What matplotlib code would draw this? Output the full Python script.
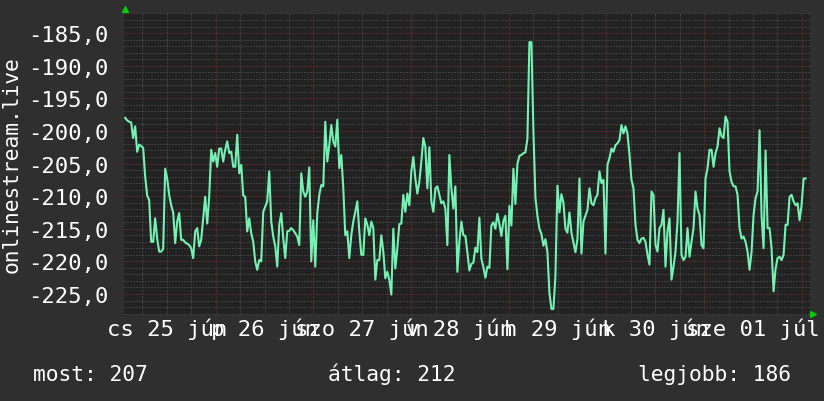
import matplotlib
matplotlib.use("Agg")
import matplotlib.pyplot as plt
import matplotlib.dates as mdates
from matplotlib.ticker import MultipleLocator, FuncFormatter
import pandas as pd

# readings about every half hour (1770 s steps), starting 25 June 01:45
values = [
    -198.0, -198.4, -198.6, -198.7, -201.1, -199.3, -203.2, -202.1, -202.3, -202.6,
    -207.0, -209.9, -210.6, -217.0, -217.0, -213.4, -216.5, -218.5, -218.5, -218.1,
    -205.8, -207.3, -209.8, -211.4, -212.5, -217.2, -213.9, -212.6, -216.7, -216.7,
    -217.1, -217.3, -217.5, -218.0, -219.5, -215.4, -214.9, -217.7, -216.7, -213.4,
    -210.1, -214.2, -210.1, -202.9, -204.7, -203.4, -205.5, -202.7, -202.7, -204.7,
    -202.9, -201.6, -203.4, -203.2, -205.5, -205.5, -200.6, -206.5, -205.2, -209.9,
    -210.1, -215.4, -213.4, -215.7, -217.0, -220.0, -221.3, -219.8, -220.0, -212.4,
    -211.6, -210.8, -206.2, -213.9, -216.2, -217.7, -220.8, -214.4, -212.6, -216.5,
    -219.5, -215.4, -215.3, -214.9, -215.2, -215.7, -216.2, -217.5, -206.5, -209.3,
    -210.1, -209.3, -205.6, -220.0, -213.7, -220.8, -212.6, -209.8, -208.3, -208.5,
    -198.6, -204.7, -202.2, -199.1, -201.6, -202.4, -198.3, -205.7, -203.7, -208.8,
    -216.0, -215.4, -219.5, -216.0, -213.9, -212.4, -210.8, -215.4, -219.0, -219.0,
    -213.4, -214.4, -216.0, -213.9, -214.9, -222.8, -219.8, -219.8, -216.0, -218.5,
    -222.6, -221.6, -222.8, -225.1, -215.0, -221.1, -218.0, -214.3, -214.2, -209.8,
    -212.4, -209.6, -211.4, -206.2, -204.0, -207.3, -209.6, -207.8, -204.7, -201.1,
    -202.4, -208.8, -202.5, -210.8, -212.4, -208.8, -208.5, -209.8, -211.1, -210.8,
    -211.9, -217.5, -203.7, -208.8, -211.9, -208.5, -221.6, -217.0, -213.9, -216.0,
    -216.1, -218.6, -221.4, -220.4, -220.2, -217.9, -218.6, -213.3, -219.6, -220.9,
    -222.5, -220.8, -221.0, -214.5, -214.0, -215.0, -212.7, -214.3, -216.1, -213.8,
    -213.0, -221.2, -211.5, -214.5, -205.8, -211.2, -205.1, -203.8, -203.7, -203.4,
    -203.3, -201.2, -186.4, -186.4, -200.0, -210.2, -213.0, -215.0, -215.8, -217.6,
    -216.6, -218.6, -224.8, -227.3, -227.3, -222.2, -208.4, -212.5, -209.7, -211.0,
    -215.0, -215.6, -212.5, -215.6, -217.1, -218.6, -216.6, -207.3, -218.8, -213.9,
    -213.0, -212.1, -208.8, -211.1, -211.4, -210.3, -209.8, -206.2, -208.0, -207.5,
    -218.8, -205.2, -204.2, -202.7, -203.2, -202.2, -201.9, -201.4, -199.1, -200.4,
    -199.3, -200.4, -203.7, -207.5, -208.8, -214.4, -216.7, -217.2, -216.5, -216.4,
    -217.0, -219.0, -220.5, -209.3, -209.8, -217.5, -218.5, -214.9, -214.4, -212.1,
    -220.8, -215.4, -213.4, -222.8, -220.8, -218.5, -213.9, -203.4, -219.0, -219.8,
    -219.3, -214.9, -219.3, -217.0, -214.9, -209.3, -211.9, -212.9, -217.5, -218.0,
    -207.3, -205.7, -202.9, -202.9, -205.5, -203.4, -202.4, -199.6, -200.8, -201.1,
    -197.8, -198.6, -206.2, -207.8, -208.5, -208.5, -209.8, -214.9, -216.5, -216.2,
    -217.0, -218.5, -221.3, -218.5, -212.9, -210.3, -209.3, -199.9, -213.0, -218.0,
    -203.0, -214.9, -214.9, -218.0, -224.6, -221.1, -219.5, -219.3, -219.8, -219.0,
    -214.4, -214.4, -210.1, -209.8, -210.8, -211.4, -211.1, -213.7, -211.4, -207.3,
    -207.3,
]
times = pd.date_range("2020-06-25 01:45", periods=len(values), freq="1770s")

# day labels (hungarian locale), placed at noon of each day
day_labels = ["cs 25 jún", "p 26 jún", "szo 27 jún", "v 28 jún",
              "h 29 jún", "k 30 jún", "sze 01 júl"]
day_noons = pd.date_range("2020-06-25 12:00", periods=len(day_labels), freq="D")

legend_names = ["most", "átlag", "legjobb"]
legend_values = [207, 212, 186]

plt.rcParams["font.family"] = "DejaVu Sans Mono"
plt.rcParams["font.size"] = 16
plt.rcParams["lines.scale_dashes"] = False

bg = "#2f2f2f"
fig = plt.figure(figsize=(8.24, 4.02), dpi=100, facecolor=bg)
ax = fig.add_axes([124 / 824, 1 - 316 / 402, 686 / 824, 302 / 402], facecolor="#222222")

ax.plot(times, values, color="#74f2b4", lw=1.5, zorder=3)

ax.set_xlim(pd.Timestamp("2020-06-25 01:28"), pd.Timestamp("2020-07-02 02:00"))
ax.set_ylim(-228.22, -181.93)

# grid: minor grey dots, major red dots
ax.xaxis.set_major_locator(mdates.DayLocator())
ax.xaxis.set_minor_locator(mdates.HourLocator(byhour=[6, 12, 18]))
ax.yaxis.set_major_locator(MultipleLocator(5))
ax.yaxis.set_minor_locator(MultipleLocator(1))
ax.grid(which="minor", color="#5a5a5a", lw=0.72, linestyle=(0, (0.72, 1.44)), zorder=1)
ax.grid(which="major", color="#8c3434", lw=0.72, linestyle=(0, (0.72, 1.44)), zorder=2)
ax.set_axisbelow(True)

ax.yaxis.set_major_formatter(FuncFormatter(lambda v, _: f"{v:.1f}".replace(".", ",")))
ax.tick_params(axis="y", which="both", length=0, pad=11, colors="white")
ax.tick_params(axis="x", which="both", length=0, labelbottom=False)
for s in ax.spines.values():
    s.set_visible(False)

for d, lab in zip(day_noons, day_labels):
    ax.text(d, -0.066, lab, transform=ax.get_xaxis_transform(),
            ha="center", va="baseline", color="white")

fig.text(0.014, 0.59, "onlinestream.live", rotation=90, ha="center", va="center",
         color="white", fontsize=15.3)

# legend row
legend_x = [33, 328, 638]
for x, name, v in zip(legend_x, legend_names, legend_values):
    fig.text(x / 824, 1 - 381 / 402, f"{name}: {v}", ha="left", va="baseline",
             color="white", fontsize=15.3)

# little green arrows at the axis ends
ax.plot([0.0015], [1.012], marker="^", color="#00cc00", ms=5, transform=ax.transAxes,
        clip_on=False, zorder=5)
ax.plot([1.004], [0.004], marker=">", color="#00cc00", ms=5, transform=ax.transAxes,
        clip_on=False, zorder=5)

fig.savefig("out.png", dpi=100, facecolor=bg)
